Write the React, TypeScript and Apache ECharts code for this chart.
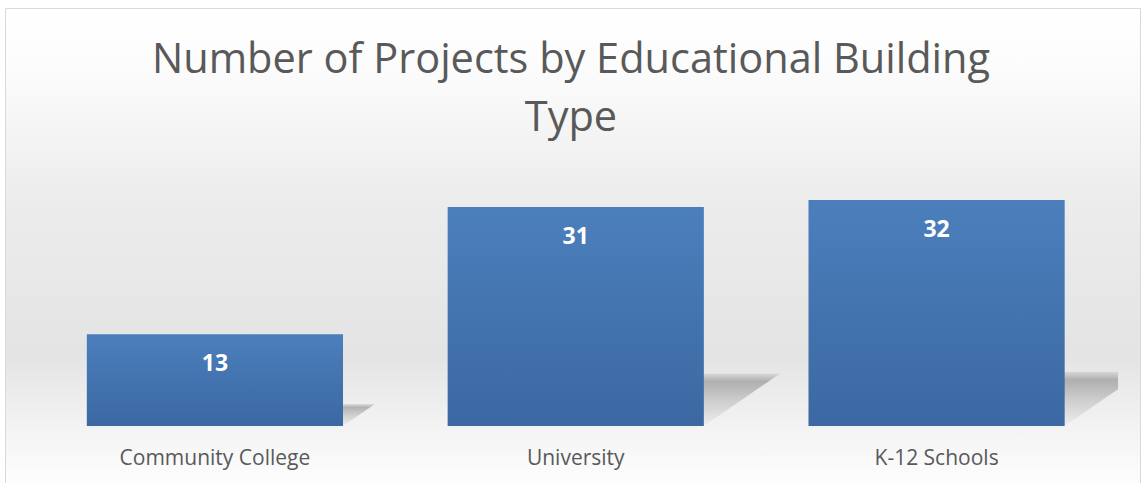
import React, { useEffect, useRef } from "react";
import * as echarts from "echarts";

const categories = ["Community College", "University", "K-12 Schools"];
const projectCounts = [13, 31, 32];
const titleText = "Number of Projects by Educational Building\nType";

const FONT = "'Open Sans', 'Noto Sans', sans-serif";

export default function App() {
  const ref = useRef<HTMLDivElement>(null);

  useEffect(() => {
    document.body.style.margin = "0";
    const chart = echarts.init(ref.current!, null, { renderer: "svg" });
    const barGapRatio = 0.71;

    const option: any = {
      animation: false,
      backgroundColor: "#ffffff",
      title: {
        text: titleText,
        left: "center",
        top: 23,
        textStyle: {
          fontFamily: FONT,
          fontSize: 41.5,
          fontWeight: "normal",
          color: "#595959",
          lineHeight: 58,
        },
      },
      graphic: [
        {
          type: "rect",
          z: -10,
          silent: true,
          shape: { x: 5.5, y: 8.5, width: 1135, height: 482 },
          style: {
            stroke: "#d9d9d9",
            lineWidth: 1,
            fill: new echarts.graphic.LinearGradient(0, 0, 0, 1, [
              { offset: 0, color: "#ffffff" },
              { offset: 0.12, color: "#fcfcfc" },
              { offset: 0.4, color: "#ececec" },
              { offset: 0.72, color: "#e4e4e4" },
              { offset: 0.88, color: "#f4f4f4" },
              { offset: 1, color: "#ffffff" },
            ]),
          },
        },
      ],
      grid: { left: 34.5, right: 25, top: 143.5, bottom: 57 },
      xAxis: {
        type: "category",
        data: categories,
        axisLine: { show: false },
        axisTick: { show: false },
        axisLabel: {
          fontFamily: FONT,
          fontSize: 21,
          color: "#595959",
          margin: 20,
        },
      },
      yAxis: {
        type: "value",
        min: 0,
        max: 40,
        show: false,
        splitLine: { show: false },
      },
      series: [
        {
          type: "custom",
          z: 1,
          clip: true,
          silent: true,
          data: projectCounts.map((v, i) => [i, v]),
          renderItem: (params: any, api: any) => {
            const idx = api.value(0);
            const val = api.value(1);
            const top = api.coord([idx, val]);
            const base = api.coord([idx, 0]);
            const band = api.size([1, 0])[0];
            const w = band * barGapRatio;
            const L = base[0] - w / 2;
            const R = base[0] + w / 2;
            const B = base[1];
            const h = B - top[1];
            const sh = h * 0.24;
            const skew = sh * 1.45;
            return {
              type: "polygon",
              shape: {
                points: [
                  [L, B],
                  [R, B],
                  [R + skew, B - sh],
                  [L + skew, B - sh],
                ],
              },
              style: {
                fill: new echarts.graphic.LinearGradient(0, 0, 0, 1, [
                  { offset: 0, color: "rgba(0,0,0,0.07)" },
                  { offset: 0.15, color: "rgba(0,0,0,0.25)" },
                  { offset: 0.5, color: "rgba(0,0,0,0.14)" },
                  { offset: 1, color: "rgba(0,0,0,0.02)" },
                ]),
              },
            };
          },
        },
        {
          type: "bar",
          z: 2,
          data: projectCounts,
          barCategoryGap: "29%",
          itemStyle: {
            color: new echarts.graphic.LinearGradient(0, 0, 0, 1, [
              { offset: 0, color: "#4b7fbc" },
              { offset: 1, color: "#3b68a2" },
            ]),
          },
          label: {
            show: true,
            position: "insideTop",
            distance: 16,
            fontFamily: FONT,
            fontSize: 23,
            fontWeight: "bold",
            color: "#ffffff",
          },
        },
      ],
    };

    chart.setOption(option);
    return () => chart.dispose();
  }, []);

  return <div ref={ref} style={{ width: 1142, height: 483 }} />;
}
